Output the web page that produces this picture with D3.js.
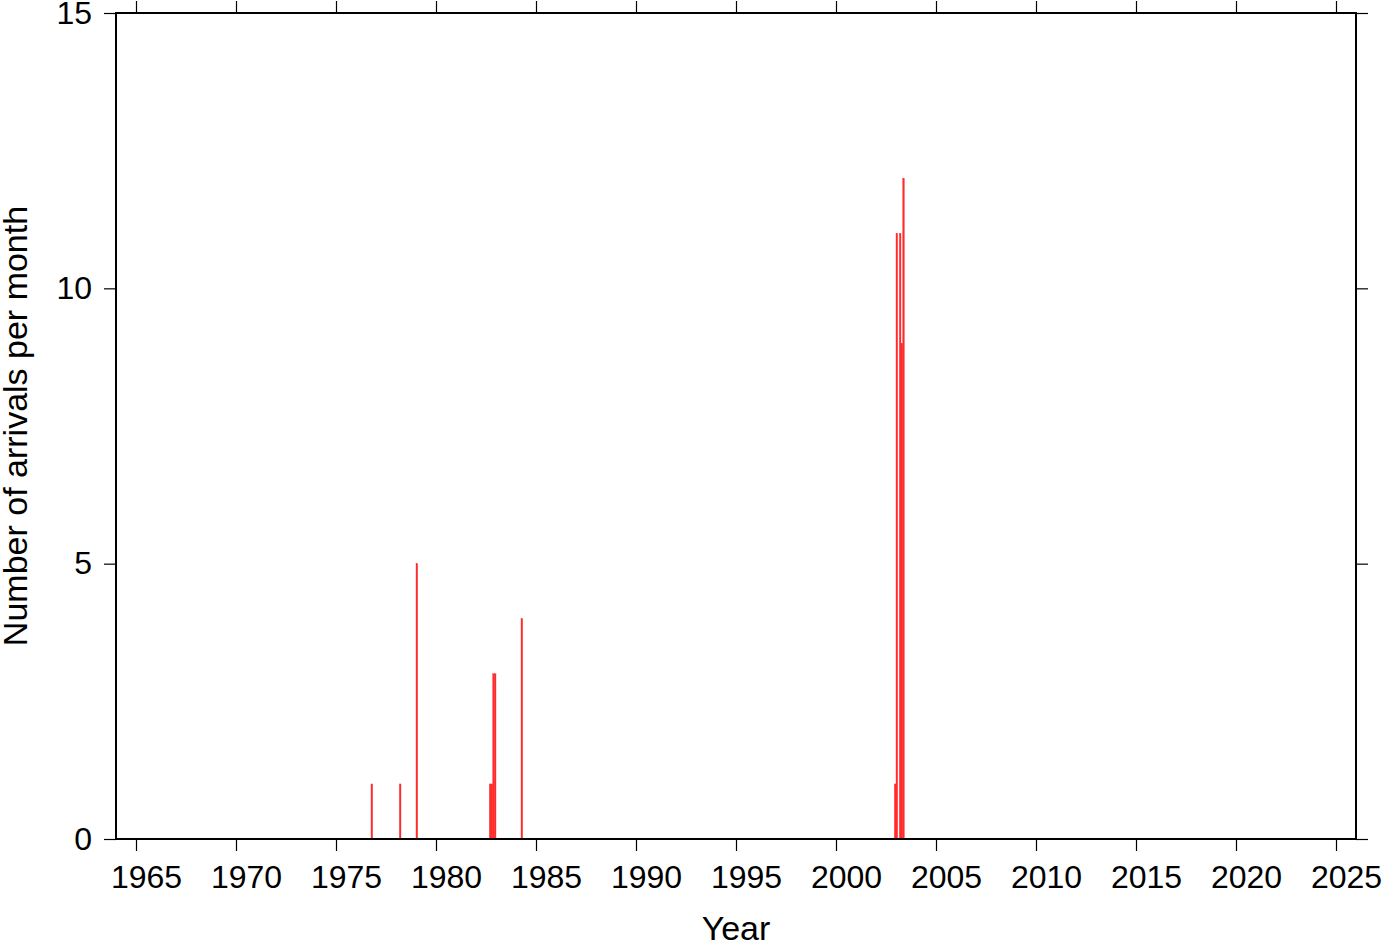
<!DOCTYPE html>
<html>
<head>
<meta charset="utf-8">
<script src="https://cdn.jsdelivr.net/npm/d3@7"></script>
<style>
  html, body { margin: 0; padding: 0; background: #fff; }
  svg { display: block; }
  text { font-family: "Liberation Sans", Arial, Helvetica, sans-serif; fill: #000; }
</style>
</head>
<body>
<svg id="chart" width="1382" height="942"></svg>
<script>
// ---- data ----
const barYears  = [1976, 1978, 1979, 1982, 1982, 1982, 1982, 1984, 2002, 2003, 2003, 2003, 2003];
const barMonths = [10,   3,    1,    9,    10,   11,   12,   4,    12,   1,    3,    4,    5];
const barCounts = [1,    1,    5,    1,    1,    3,    3,    4,    1,    11,   11,   9,    12];
const xTicks = [1965, 1970, 1975, 1980, 1985, 1990, 1995, 2000, 2005, 2010, 2015, 2020, 2025];
const yTicks = [0, 5, 10, 15];
const xDomain = [1964, 2026];
const yDomain = [0, 15];
const xLabel = "Year";
const yLabel = "Number of arrivals per month";

// ---- layout ----
const L = 116, R = 1356, T = 13, B = 839;
const svg = d3.select("#chart");
const x = d3.scaleLinear().domain(xDomain).range([L, R]);
const y = d3.scaleLinear().domain(yDomain).range([B, T]);

const bars = barYears.map((yr, i) => ({ t0: yr + (barMonths[i] - 1) / 12, t1: yr + barMonths[i] / 12, v: barCounts[i] }));

// bars
svg.append("g").selectAll("rect").data(bars).join("rect")
  .attr("x", d => x(d.t0))
  .attr("width", d => x(d.t1) - x(d.t0))
  .attr("y", d => y(d.v))
  .attr("height", d => y(0) - y(d.v))
  .attr("fill", "#ff2b2b")
  .attr("stroke", "#ff2b2b")
  .attr("stroke-width", 0.35);

const tickFont = 32;
const titleFont = 34;

function styleAxis(g, withLabels) {
  g.select(".domain").remove();
  g.selectAll(".tick line").attr("stroke", "#000").attr("stroke-width", 1.2);
  g.selectAll(".tick text").style("font-size", tickFont + "px");
  if (!withLabels) g.selectAll(".tick text").remove();
}

// bottom
svg.append("g").attr("transform", `translate(0,${B})`)
  .call(d3.axisBottom(x).tickValues(xTicks).tickSize(12).tickPadding(14).tickFormat(d3.format("d")))
  .call(g => styleAxis(g, true))
  .call(g => g.selectAll(".tick text").attr("dx", 10));
// top
svg.append("g").attr("transform", `translate(0,${T})`)
  .call(d3.axisTop(x).tickValues(xTicks).tickSize(12))
  .call(g => styleAxis(g, false));
// left
svg.append("g").attr("transform", `translate(${L},0)`)
  .call(d3.axisLeft(y).tickValues(yTicks).tickSize(12).tickPadding(12).tickFormat(d3.format("d")))
  .call(g => styleAxis(g, true));
// right
svg.append("g").attr("transform", `translate(${R},0)`)
  .call(d3.axisRight(y).tickValues(yTicks).tickSize(12))
  .call(g => styleAxis(g, false));

// frame
svg.append("rect")
  .attr("x", L).attr("y", T).attr("width", R - L).attr("height", B - T)
  .attr("fill", "none").attr("stroke", "#000").attr("stroke-width", 2);

// axis titles
svg.append("text")
  .attr("x", (L + R) / 2).attr("y", 940)
  .attr("text-anchor", "middle")
  .style("font-size", titleFont + "px")
  .text(xLabel);

svg.append("text")
  .attr("transform", `translate(27,${(T + B) / 2}) rotate(-90)`)
  .attr("text-anchor", "middle")
  .style("font-size", titleFont + "px")
  .text(yLabel);
</script>
</body>
</html>
